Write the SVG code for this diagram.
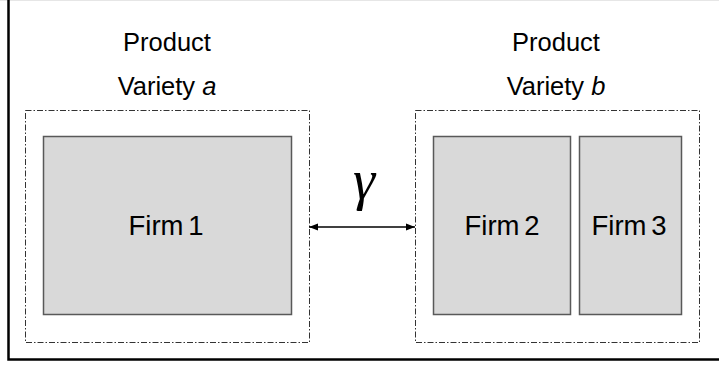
<svg xmlns="http://www.w3.org/2000/svg" width="719" height="365" viewBox="0 0 719 365">
<defs>
<style>
.t{font-family:"Liberation Sans",Arial,sans-serif;font-size:25.5px;fill:#000;text-anchor:middle}
.f{font-family:"Liberation Sans",Arial,sans-serif;font-size:27.5px;fill:#000;text-anchor:middle;word-spacing:-3px}
.grp{fill:none;stroke:#333;stroke-width:1;stroke-dasharray:6 2 1.5 2}
.firm{fill:#d9d9d9;stroke:#595959;stroke-width:1.5}
</style>
<marker id="ah" viewBox="0 0 10 10" refX="10" refY="5" markerWidth="9" markerHeight="9" markerUnits="userSpaceOnUse" orient="auto-start-reverse">
<path d="M0,1 L10,5 L0,9 z" fill="#000"/>
</marker>
</defs>
<rect width="719" height="365" fill="#fff"/>
<line x1="0" y1="0.5" x2="719" y2="0.5" stroke="#e6e6e6" stroke-width="1"/>
<path d="M8.5,0 V359.5 H719" fill="none" stroke="#000" stroke-width="2.5"/>
<g id="variety-a">
<rect class="grp" x="25.5" y="110.5" width="284" height="232"/>
<text class="t" x="167" y="51">Product</text>
<text class="t" x="167" y="95">Variety <tspan font-style="italic">a</tspan></text>
</g>
<g id="variety-b">
<rect class="grp" x="415.5" y="110.5" width="284" height="232"/>
<text class="t" x="556" y="51">Product</text>
<text class="t" x="556" y="95">Variety <tspan font-style="italic">b</tspan></text>
</g>
<g id="firm1">
<rect class="firm" x="43.5" y="136.5" width="248" height="178" stroke="#333"/>
<text class="f" x="166" y="235">Firm 1</text>
</g>
<g id="firm2">
<rect class="firm" x="433.5" y="136.5" width="137" height="178"/>
<text class="f" x="502" y="235">Firm 2</text>
</g>
<g id="firm3">
<rect class="firm" x="579.5" y="136.5" width="102" height="178"/>
<text class="f" x="629" y="235">Firm 3</text>
</g>
<g id="connectors">
<line x1="309" y1="227" x2="415" y2="227" stroke="#000" stroke-width="1.3" marker-start="url(#ah)" marker-end="url(#ah)"/>
<text x="364" y="199" font-family="'Liberation Serif','Times New Roman',serif" font-style="italic" font-size="56" text-anchor="middle">γ</text>
</g>
</svg>
